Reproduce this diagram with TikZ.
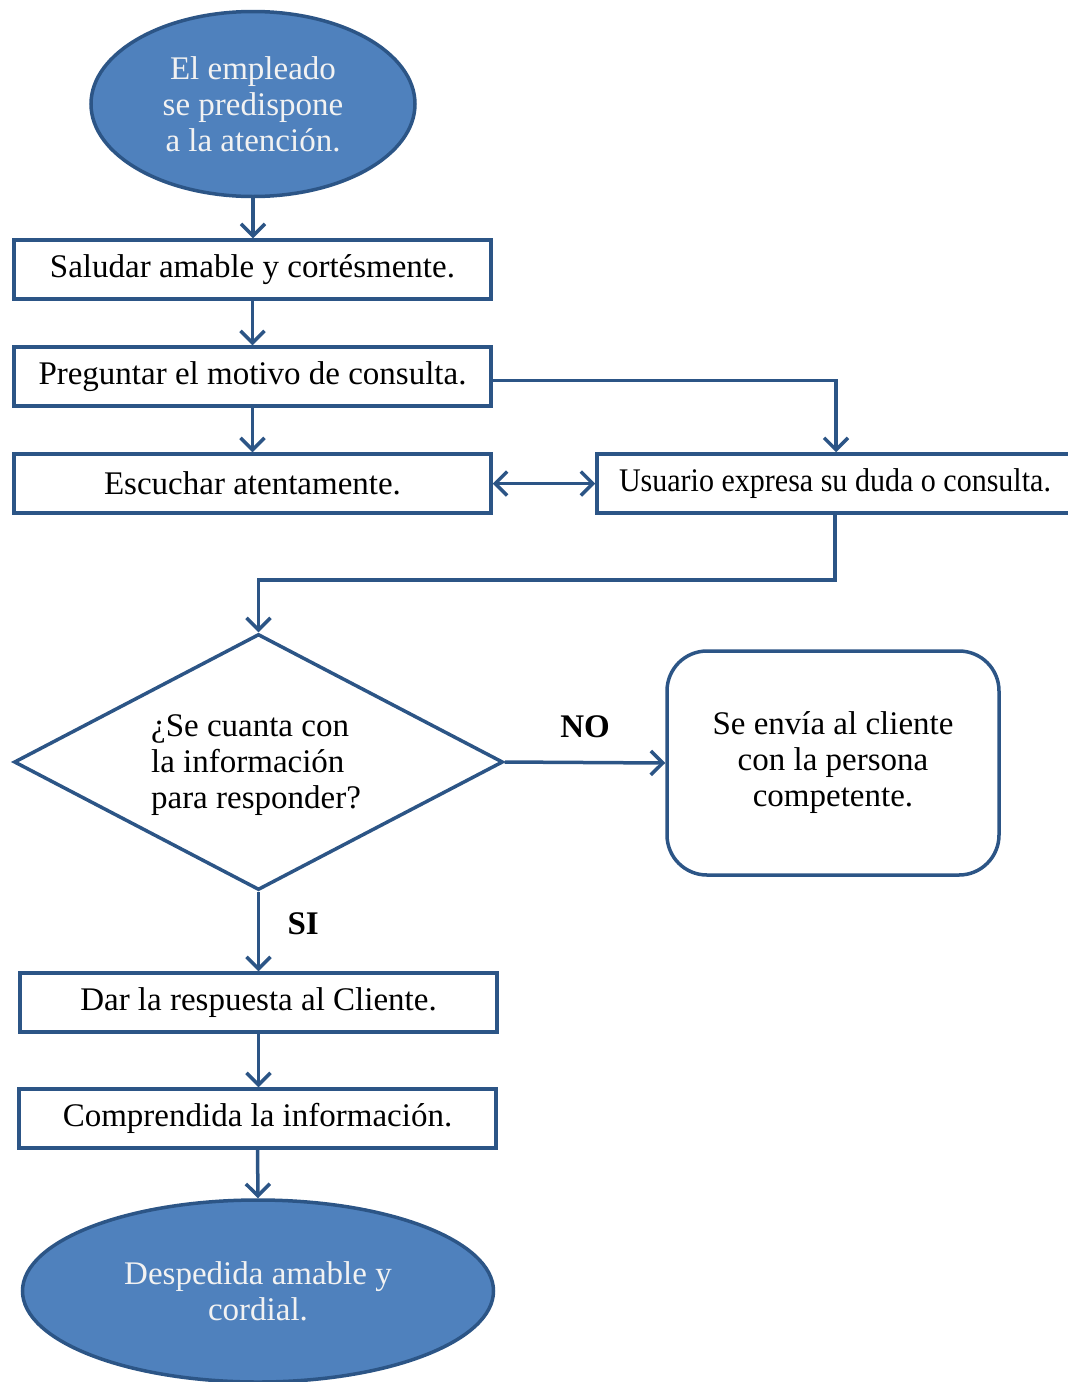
\documentclass[tikz,border=0pt]{standalone}
\usepackage{fontspec}
\setmainfont{Liberation Serif}
\usepackage{graphicx}
\usetikzlibrary{shapes.geometric,arrows.meta,positioning}
\definecolor{lineblue}{HTML}{2C5586}
\definecolor{fillblue}{HTML}{4F81BD}
\definecolor{softwhite}{HTML}{F2F2F2}
\begin{document}
\begin{tikzpicture}[x=1pt,y=-1pt,
  every node/.style={font=\fontsize{33}{36}\selectfont},
  term/.style={ellipse,draw=lineblue,line width=3.5pt,fill=fillblue,text=softwhite,align=center,inner sep=0pt},
  procbox/.style={rectangle,draw=lineblue,line width=3.5pt,fill=white,inner sep=0pt},
  decbox/.style={diamond,draw=lineblue,line width=3.5pt,fill=white,inner sep=0pt},
  roundbox/.style={rectangle,rounded corners=40pt,draw=lineblue,line width=3.5pt,fill=white,align=center,inner sep=0pt},
  arr/.style={draw=lineblue,line width=3.5pt,-{Straight Barb[length=12pt,width=24pt,line width=3.5pt]}},
  darr/.style={draw=lineblue,line width=3.5pt,{Straight Barb[length=12pt,width=24pt,line width=3.5pt]}-{Straight Barb[length=12pt,width=24pt,line width=3.5pt]}},
  lbl/.style={font=\fontsize{33}{36}\selectfont\bfseries,text=black}
]
\useasboundingbox (0,0) rectangle (1068,1382);

\node[term,minimum width=324pt,minimum height=185pt] (e1) at (253,104)
  {El empleado\\se predispone\\a la atención.};
\node[procbox,minimum width=477pt,minimum height=59pt] (b1) at (252.5,269.5) {Saludar amable y cortésmente.};
\node[procbox,minimum width=477pt,minimum height=59pt] (b2) at (252.5,376.5) {Preguntar el motivo de consulta.};
\node[procbox,minimum width=477pt,minimum height=59pt] (b3) at (252.5,483.5) {Escuchar atentamente.};
\node[procbox,minimum width=476pt,minimum height=59pt] (u) at (835,483.5) {\scalebox{0.91}[1]{Usuario expresa su duda o consulta.}};

\node[decbox,minimum width=489pt,minimum height=256pt] (d) at (258.5,762) {};
\node[align=left,anchor=center] (dt) at (256,765) {¿Se cuanta con\\la información\\para responder?};

\node[roundbox,minimum width=332pt,minimum height=224pt] (r) at (833,763)
  {Se envía al cliente\\con la persona\\competente.};

\node[procbox,minimum width=477pt,minimum height=59pt] (b4) at (258.5,1002.5) {Dar la respuesta al Cliente.};
\node[procbox,minimum width=477pt,minimum height=59pt] (b5) at (257.5,1118.5) {Comprendida la información.};
\node[term,minimum width=471pt,minimum height=182pt] (e2) at (258,1291)
  {Despedida amable y\\cordial.};

\draw[arr] (e1.south) -- (e1.south |- b1.north);
\draw[arr] (b1.south) -- (b1.south |- b2.north);
\draw[arr] (b2.south) -- (b2.south |- b3.north);
\draw[arr] ([yshift=-4pt]b2.east) -| ([xshift=1pt]u.north);
\draw[darr] (b3.east) -- (u.west);
\draw[arr] (u.south) -- ++(0,65) -| (d.north);
\draw[arr] (d.east) -- node[lbl,above=20pt] (no) {NO} (r.west);
\draw[arr] (d.south) -- node[lbl,right=24pt,yshift=8pt] (si) {SI} (b4.north);
\draw[arr] (b4.south) -- (b4.south |- b5.north);
\draw[arr] (b5.south) -- (e2.north);
\end{tikzpicture}
\end{document}
